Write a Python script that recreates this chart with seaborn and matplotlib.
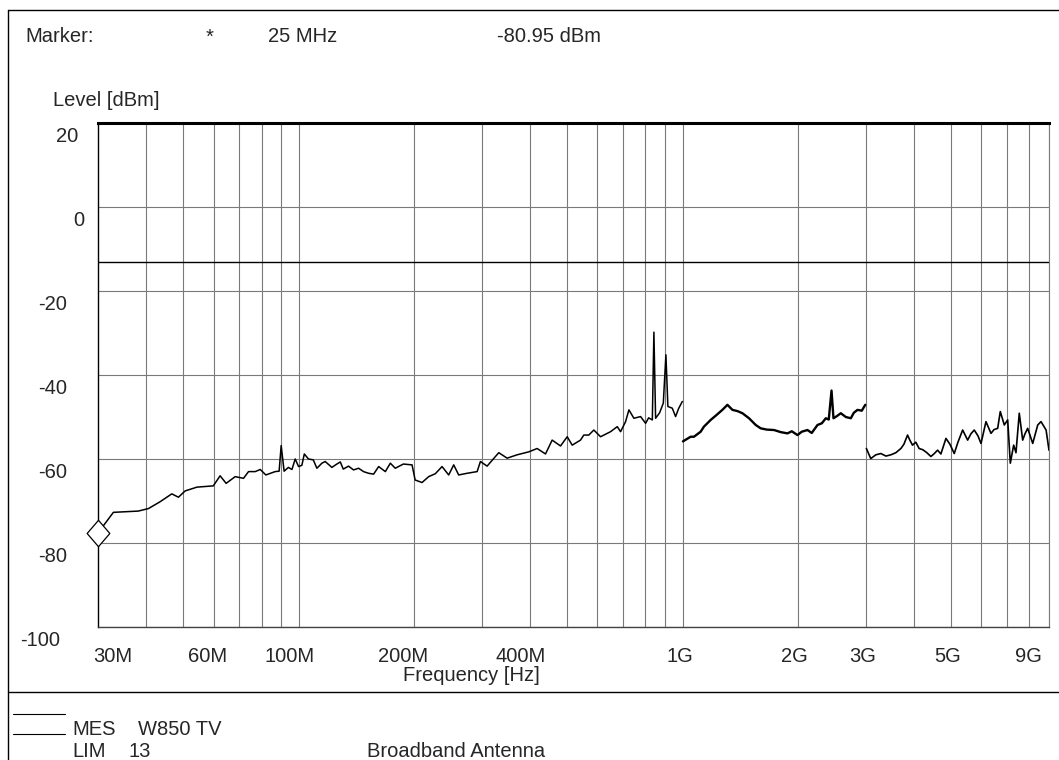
import matplotlib
matplotlib.use("Agg")
import matplotlib.pyplot as plt
import pandas as pd
import seaborn as sns
from matplotlib.lines import Line2D
from matplotlib.path import Path
from matplotlib.ticker import FixedLocator, NullLocator
from matplotlib.transforms import blended_transform_factory, ScaledTranslation

# ---- measured trace (frequency in MHz, level in dBm) ----
# sweep 1: 30 MHz - 1 GHz
sweep1_freq_mhz = [30.0, 32.9, 38.2, 40.6, 43.5, 46.7, 48.6, 50.6, 54.3, 59.9,
                   62.4, 64.7, 68.3, 71.8, 74.0, 77.0, 79.4, 82.1, 86.8, 88.9,
                   90.0, 91.6, 94.0, 96.0, 97.9, 99.9, 101.9, 103.4, 106.0, 109.1,
                   111.5, 114.9, 117.2, 122.0, 125.2, 128.3, 130.6, 134.8, 138.9, 143.2,
                   147.5, 152.0, 156.7, 161.5, 168.1, 173.2, 178.4, 187.3, 197.3, 201.0,
                   209.5, 218.0, 226.9, 236.2, 245.8, 253.3, 261.0, 274.5, 291.5, 297.3,
                   309.5, 325.4, 331.9, 349.0, 370.6, 397.3, 417.8, 439.3, 457.2, 480.7,
                   500.4, 515.6, 541.9, 552.7, 569.6, 587.0, 611.1, 648.9, 675.6, 689.1,
                   710.1, 724.5, 746.4, 777.0, 800.7, 815.4, 833.7, 841.6, 850.2, 870.9,
                   890.4, 904.5, 915.3, 939.6, 958.5, 975.9, 998.0]
sweep1_level_dbm = [-77.6, -72.7, -72.4, -71.8, -70.2, -68.3, -69.1, -67.6, -66.7, -66.4,
                    -64.0, -65.8, -64.2, -64.6, -63.0, -63.0, -62.5, -63.8, -63.0, -62.9,
                    -56.8, -62.9, -62.0, -62.5, -60.0, -61.8, -61.5, -58.8, -60.0, -60.2,
                    -62.2, -61.0, -60.6, -62.0, -61.3, -60.7, -62.4, -61.7, -62.6, -62.2,
                    -63.0, -63.4, -63.6, -61.8, -63.0, -61.0, -62.2, -61.2, -61.4, -65.0,
                    -65.6, -64.2, -63.5, -61.8, -63.8, -61.4, -63.8, -63.4, -63.0, -60.6,
                    -61.7, -59.4, -58.5, -59.8, -59.0, -58.3, -57.5, -58.8, -55.5, -56.9,
                    -54.7, -56.7, -55.5, -54.3, -54.3, -53.1, -54.7, -53.5, -52.3, -53.5,
                    -51.1, -48.3, -50.3, -49.9, -51.5, -50.2, -50.7, -29.8, -50.3, -49.0,
                    -46.7, -35.2, -47.5, -47.9, -49.9, -48.0, -46.3]

# sweep 2: 1 GHz - 3 GHz
sweep2_freq_mhz = [1002, 1049, 1070, 1114, 1136, 1183, 1226, 1269, 1308, 1348,
                   1390, 1431, 1489, 1550, 1597, 1656, 1730, 1801, 1875, 1924,
                   1991, 2043, 2114, 2169, 2245, 2304, 2360, 2402, 2442, 2471,
                   2521, 2582, 2660, 2742, 2791, 2854, 2928, 2990]
sweep2_level_dbm = [-55.8, -54.7, -54.7, -53.5, -52.3, -50.7, -49.5, -48.3, -47.1, -48.3,
                    -48.6, -49.1, -50.3, -51.9, -52.7, -53.0, -53.1, -53.6, -53.9, -53.4,
                    -54.3, -53.5, -53.1, -53.8, -51.9, -51.5, -50.3, -50.6, -43.7, -50.3,
                    -49.8, -49.1, -50.0, -50.3, -49.0, -48.3, -48.5, -47.1]

# sweep 3: 3 GHz - 9 GHz
sweep3_freq_mhz = [3010, 3090, 3186, 3283, 3384, 3487, 3592, 3702, 3769, 3853,
                   3906, 3969, 4049, 4130, 4224, 4326, 4431, 4512, 4614, 4706,
                   4851, 4969, 5098, 5213, 5362, 5525, 5635, 5748, 5879, 5986,
                   6167, 6355, 6471, 6615, 6720, 6883, 7025, 7136, 7281, 7383,
                   7530, 7686, 7793, 7919, 8163, 8412, 8580, 8844, 9000]
sweep3_level_dbm = [-57.5, -59.9, -59.0, -58.7, -59.3, -59.0, -58.5, -57.5, -56.5, -54.3,
                    -55.5, -56.7, -56.0, -57.5, -57.8, -58.5, -59.4, -58.8, -57.9, -58.8,
                    -55.1, -56.5, -58.7, -56.0, -53.1, -55.5, -54.0, -53.1, -54.5, -56.3,
                    -51.1, -53.9, -53.0, -52.7, -48.7, -51.9, -50.7, -61.0, -56.7, -58.5,
                    -49.1, -55.5, -54.0, -52.7, -56.3, -51.9, -51.1, -53.1, -57.9]

limit_level_dbm = -13

marker_freq_text = "25 MHz"
marker_level_text = "-80.95 dBm"

x_tick_freqs_mhz = [30, 60, 100, 200, 400, 1000, 2000, 3000, 5000, 9000]
x_tick_labels = ["30M", "60M", "100M", "200M", "400M", "1G", "2G", "3G", "5G", "9G"]
y_tick_values = [20, 0, -20, -40, -60, -80, -100]
y_tick_labels = ["20", "0", "-20", "-40", "-60", "-80", "-100"]

# ---- figure layout (pixels) ----
W, H, DPI = 1059, 760, 100
FS = 14.5


def fx(px):
    return px / W


def fy(py):
    return 1 - py / H


sns.set_style("white")
plt.rcParams["font.family"] = ["Liberation Sans", "DejaVu Sans"]

fig = plt.figure(figsize=(W / DPI, H / DPI), dpi=DPI)
fig.patch.set_facecolor("white")
ax = fig.add_axes([fx(98), fy(627), 951 / W, 504 / H])

ax.set_xscale("log")
sweeps = [(sweep1_freq_mhz, sweep1_level_dbm, 1.1),
          (sweep2_freq_mhz, sweep2_level_dbm, 1.7),
          (sweep3_freq_mhz, sweep3_level_dbm, 1.2)]
for freq, level, width in sweeps:
    df = pd.DataFrame({"freq": freq, "level": level})
    sns.lineplot(data=df, x="freq", y="level", estimator=None, sort=False,
                 color="black", lw=width, ax=ax, legend=False, zorder=4)

ax.set_xlim(30, 9000)
ax.set_ylim(-100, 20)

# decade grid 40M ... 9G
grid_freqs = [m * 10 ** e for e in (1, 2, 3) for m in range(1, 10)
              if 30 < m * 10 ** e <= 9000]
ax.xaxis.set_major_locator(FixedLocator(grid_freqs))
ax.xaxis.set_minor_locator(NullLocator())
ax.yaxis.set_major_locator(FixedLocator(y_tick_values))
ax.yaxis.set_minor_locator(NullLocator())
ax.tick_params(length=0, labelbottom=False, labelleft=False)
ax.grid(True, color="#7a7a7a", lw=0.8)
ax.set_xlabel("")
ax.set_ylabel("")

# limit line
ax.axhline(limit_level_dbm, color="black", lw=1.0, zorder=3)

# spines
for side, sp in ax.spines.items():
    sp.set_visible(True)
ax.spines["top"].set_color("black")
ax.spines["top"].set_linewidth(2.2)
ax.spines["left"].set_color("black")
ax.spines["left"].set_linewidth(1.0)
ax.spines["bottom"].set_color("#444444")
ax.spines["bottom"].set_linewidth(1.0)
ax.spines["right"].set_color("#7a7a7a")
ax.spines["right"].set_linewidth(0.8)

# marker diamond at the start of the trace
diamond = Path([(0, 1), (0.86, 0), (0, -1), (-0.86, 0), (0, 1)],
               [Path.MOVETO, Path.LINETO, Path.LINETO, Path.LINETO, Path.CLOSEPOLY])
ax.plot([sweep1_freq_mhz[0]], [sweep1_level_dbm[0]], marker=diamond, ms=19,
        mfc="white", mec="black", mew=0.9, clip_on=False, zorder=6, ls="none")

# x tick labels
x_label_dx = [15, -6, -9.5, -11, -9.5, -3, -3.5, -3, -3, -21]
tr_x = blended_transform_factory(ax.transData, fig.transFigure)
for f, lab, dx in zip(x_tick_freqs_mhz, x_tick_labels, x_label_dx):
    ax.text(f, fy(662), lab, fontsize=FS, ha="center", va="baseline",
            transform=tr_x + ScaledTranslation(dx / DPI, 0, fig.dpi_scale_trans))

# y tick labels
y_label_cx = [67, 79, 53, 53, 53, 53, 40]
tr_y = blended_transform_factory(fig.transFigure, ax.transData)
for v, lab, cx in zip(y_tick_values, y_tick_labels, y_label_cx):
    ax.text(fx(cx), v, lab, fontsize=FS, ha="center", va="baseline",
            transform=tr_y + ScaledTranslation(0, -18.5 / DPI, fig.dpi_scale_trans))

# header
fig.text(fx(25), fy(42.5), "Marker:", fontsize=FS, ha="left", va="baseline")
fig.text(fx(206), fy(42.5), "*", fontsize=FS, ha="left", va="baseline")
fig.text(fx(268), fy(42.5), marker_freq_text, fontsize=FS, ha="left", va="baseline")
fig.text(fx(497), fy(42.5), marker_level_text, fontsize=FS, ha="left", va="baseline")
fig.text(fx(53), fy(106), "Level [dBm]", fontsize=FS, ha="left", va="baseline")
fig.text(fx(403), fy(681), "Frequency [Hz]", fontsize=FS, ha="left", va="baseline")

# footer legend
fig.text(fx(72), fy(735), "MES", fontsize=FS, ha="left", va="baseline")
fig.text(fx(138), fy(735), "W850 TV", fontsize=FS, ha="left", va="baseline")
fig.text(fx(72), fy(757), "LIM", fontsize=FS, ha="left", va="baseline")
fig.text(fx(128), fy(757), "13", fontsize=FS, ha="left", va="baseline")
fig.text(fx(367), fy(757), "Broadband Antenna", fontsize=FS, ha="left", va="baseline")

for py in (714, 734):
    fig.add_artist(Line2D([fx(13), fx(65)], [fy(py), fy(py)], color="black",
                          lw=0.8, transform=fig.transFigure))

# page frame and separator
fig.add_artist(Line2D([fx(7.5), fx(7.5)], [fy(9.5), 0], color="black", lw=1.0,
                      transform=fig.transFigure))
fig.add_artist(Line2D([fx(7.5), 1], [fy(9.5), fy(9.5)], color="black", lw=1.0,
                      transform=fig.transFigure))
fig.add_artist(Line2D([fx(7.5), 1], [fy(691.5), fy(691.5)], color="black", lw=1.0,
                      transform=fig.transFigure))

fig.savefig("out.png", dpi=DPI, facecolor="white")
